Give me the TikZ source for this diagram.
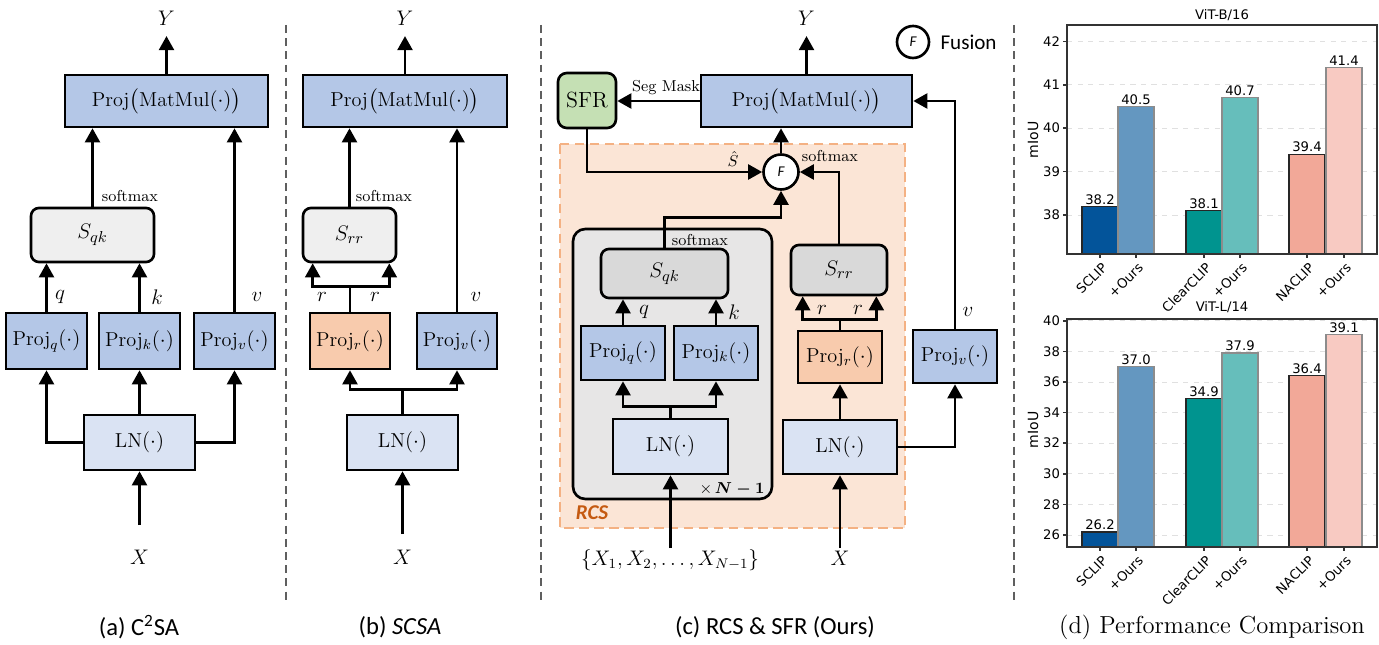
\documentclass[tikz,border=0pt]{standalone}
\usepackage{amsmath}
\usepackage{fontspec}
\setsansfont{Carlito}
\newfontfamily\pltfont{DejaVu Sans}
\usepackage{tikz}
\usetikzlibrary{arrows.meta, positioning}

\definecolor{projblue}{HTML}{B4C7E7}
\definecolor{lnblue}{HTML}{DAE3F3}
\definecolor{projorange}{HTML}{F8CBAD}
\definecolor{simgray}{HTML}{EFEFEF}
\definecolor{simdark}{HTML}{D9D9D9}
\definecolor{loopgray}{HTML}{E7E6E6}
\definecolor{sfrgreen}{HTML}{C5E0B4}
\definecolor{rcsfill}{HTML}{FBE5D6}
\definecolor{rcsline}{HTML}{F4B183}
\definecolor{rcstext}{HTML}{C55A11}
\definecolor{sepgray}{HTML}{5F5F5F}
\definecolor{sclipc}{HTML}{03549A}
\definecolor{sclipo}{HTML}{6497C0}
\definecolor{clearc}{HTML}{00948F}
\definecolor{clearo}{HTML}{66BEBB}
\definecolor{nac}{HTML}{F2A898}
\definecolor{naco}{HTML}{F8CAC2}

\begin{document}
\begin{tikzpicture}[x=0.02cm, y=-0.02cm,
    arr/.style={line width=1.5pt, -{Triangle[width=8.5pt,length=8pt]}},
    box/.style={draw, line width=1.5pt, inner sep=0pt, font=\fontsize{11.5}{13}\selectfont},
    proj/.style={box, fill=projblue, minimum width=1.62cm, minimum height=1.12cm},
    projr/.style={proj, fill=projorange},
    ln/.style={box, fill=lnblue, minimum width=2.22cm, minimum height=1.1cm},
    sim/.style={box, rounded corners=4.5pt, fill=simgray, minimum height=1.08cm, font=\fontsize{12.5}{14}\selectfont},
    simc/.style={sim, fill=simdark},
    sfrbox/.style={box, rounded corners=5pt, fill=sfrgreen, minimum width=1.16cm, minimum height=1.1cm, font=\fontsize{12.5}{14}\selectfont},
    fuse/.style={draw, circle, line width=1.5pt, fill=white, minimum size=0.7cm, inner sep=0pt, font=\sffamily\itshape\fontsize{8.5}{10}\selectfont},
    mathvar/.style={inner sep=1pt, font=\fontsize{12}{14}\selectfont},
    outvar/.style={mathvar, inner sep=6pt},
    lbl/.style={inner sep=1pt, font=\fontsize{13}{15}\selectfont},
    smalltxt/.style={inner sep=1pt, font=\fontsize{9}{10}\selectfont},
    subcap/.style={font=\sffamily\fontsize{14}{16}\selectfont},
    divider/.style={draw=sepgray, line width=1.3pt, dash pattern=on 4.5pt off 3pt},
    gridln/.style={draw=black!12, line width=0.5pt, dashed},
    axisbox/.style={draw=black!80, line width=0.8pt},
    plt/.style={inner sep=1pt, font=\pltfont\fontsize{7.5}{9}\selectfont},
    xlab/.style={plt, rotate=45, anchor=north east}]
  \useasboundingbox (0,0) rectangle (1379,645);

  % separators
  \draw[divider] (286,25) -- (286,600);
  \draw[divider] (541,25) -- (541,600);
  \draw[divider] (1014,25) -- (1014,600);

  % (a) C2SA
  \node[proj, minimum width=4.06cm, minimum height=1.04cm] (pa) at (166.5,101) {Proj$\big($MatMul$(\cdot)\big)$};
  \node[sim, minimum width=2.46cm] (sa) at (92.5,235) {$S_{qk}$};
  \node[proj] (qa) at (46.5,341) {Proj$_q(\cdot)$};
  \node[proj] (ka) at (139.5,341) {Proj$_k(\cdot)$};
  \node[proj] (va) at (234.5,341) {Proj$_v(\cdot)$};
  \node[ln] (lna) at (139.5,442.5) {LN$(\cdot)$};
  \node[outvar] (ya) at (166.5,18) {$Y$};
  \node[mathvar] (xa) at (139.5,557) {$X$};
  \coordinate (ina) at (139.5,525);
  \node[smalltxt] (sma) at (130,196) {softmax};
  \node[lbl] (la) at (60,297) {$q$};
  \node[lbl] (lb) at (157,297) {$k$};
  \node[lbl] (lc) at (257,297) {$v$};
  \draw[arr] (pa) -- (ya);
  \draw[arr] (sa) -- (sa |- pa.south);
  \draw[arr] (va) -- (va |- pa.south);
  \draw[arr] (qa) -- (qa |- sa.south);
  \draw[arr] (ka) -- (ka |- sa.south);
  \draw[arr] (lna.west) -| (qa);
  \draw[arr] (lna) -- (ka);
  \draw[arr] (lna.east) -| (va);
  \draw[arr] (ina) -- (lna);
  \node[subcap] (capa) at (139,627) {(a) C\textsuperscript{2}SA};

  % (b) SCSA
  \node[proj, minimum width=4.08cm, minimum height=1.04cm] (pb) at (405,101) {Proj$\big($MatMul$(\cdot)\big)$};
  \node[sim, minimum width=1.86cm] (sb) at (349.5,235) {$S_{rr}$};
  \node[projr, minimum width=1.6cm] (rb) at (350,341) {Proj$_r(\cdot)$};
  \node[proj, minimum width=1.6cm] (vb) at (457,341) {Proj$_v(\cdot)$};
  \node[ln] (lnb) at (402.5,442.5) {LN$(\cdot)$};
  \node[outvar] (yb) at (405,18) {$Y$};
  \node[mathvar] (xb) at (402.5,557) {$X$};
  \coordinate (inb) at (402.5,534);
  \node[smalltxt] (smb) at (384,196) {softmax};
  \node[lbl] (ld) at (322,297) {$r$};
  \node[lbl] (le) at (375,297) {$r$};
  \node[lbl] (lf) at (476,297) {$v$};
  \draw[arr] (pb) -- (yb);
  \draw[arr] (sb) -- (sb |- pb.south);
  \draw[arr] (vb) -- (vb |- pb.south);
  \draw[arr] (rb.north) -- ++(0,-25) -| ([xshift=0.22cm]sb.south west);
  \draw[arr] (rb.north) -- ++(0,-25) -| ([xshift=-0.16cm]sb.south east);
  \draw[arr] (lnb.north) -- ++(0,-24) -| (rb);
  \draw[arr] (lnb.north) -- ++(0,-24) -| (vb);
  \draw[arr] (inb) -- (lnb);
  \node[subcap] (capb) at (400,627) {(b) \textit{SCSA}};

  % (c) RCS & SFR
  \draw[draw=rcsline, fill=rcsfill, line width=1.2pt, dash pattern=on 5.5pt off 3pt] (560,144) rectangle (905,528);
  \draw[fill=loopgray, line width=1.5pt, rounded corners=7pt] (573,229) rectangle (772,499);
  \node[proj, minimum width=4.22cm, minimum height=1.04cm] (pc) at (806.5,101) {Proj$\big($MatMul$(\cdot)\big)$};
  \node[sfrbox] (sfr) at (587,100.5) {SFR};
  \node[fuse] (fc) at (781,172) {F};
  \node[simc, minimum width=2.54cm, minimum height=0.98cm] (sqc) at (664.5,273.5) {$S_{qk}$};
  \node[simc, minimum width=1.92cm, minimum height=1.0cm] (src) at (839,270) {$S_{rr}$};
  \node[proj, minimum width=1.68cm, minimum height=1.08cm] (qc) at (623,353) {Proj$_q(\cdot)$};
  \node[proj, minimum width=1.68cm, minimum height=1.08cm] (kc) at (716,353) {Proj$_k(\cdot)$};
  \node[ln, minimum width=2.3cm] (lnc) at (670.5,446.5) {LN$(\cdot)$};
  \node[projr, minimum width=1.68cm, minimum height=1.04cm] (rc) at (840,357) {Proj$_r(\cdot)$};
  \node[ln, minimum width=2.28cm, minimum height=1.08cm] (lnd) at (840,447) {LN$(\cdot)$};
  \node[proj, minimum width=1.68cm, minimum height=1.06cm] (vc) at (955,356.5) {Proj$_v(\cdot)$};
  \node[outvar] (yc) at (806.5,18) {$Y$};
  \node[mathvar] (xc) at (670,560) {$\{X_1,X_2,\dots,X_{N-1}\}$};
  \node[mathvar] (xd) at (840,558) {$X$};
  \coordinate (inc) at (670.5,548);
  \coordinate (ind) at (840,548);
  \node[fuse, minimum size=0.64cm] (fl) at (913,42) {F};
  \node[right=0.08cm of fl, font=\sffamily\fontsize{12}{14}\selectfont] (fltext) {Fusion};
  \node[smalltxt] (seg) at (666,88) {Seg Mask};
  \node[smalltxt] (smc) at (830,156) {softmax};
  \node[smalltxt] (smd) at (700,240) {softmax};
  \node[smalltxt] (shat) at (733,159) {$\hat{S}$};
  \node[lbl] (lg) at (644,312) {$q$};
  \node[lbl] (lh) at (734,312) {$k$};
  \node[lbl] (li) at (822,310) {$r$};
  \node[lbl] (lj) at (858,310) {$r$};
  \node[lbl] (lk) at (968,312) {$v$};
  \node[smalltxt] (rep) at (732,489) {$\times\,\boldsymbol{N-1}$};
  \node[font=\sffamily\bfseries\itshape\fontsize{12}{14}\selectfont, text=rcstext] (rcs) at (592,513) {RCS};
  \draw[arr] (pc) -- (yc);
  \draw[arr] (pc.west) -- (pc.west -| sfr.east);
  \draw[arr] (fc) -- (fc |- pc.south);
  \draw[arr] (sfr) |- (fc);
  \draw[arr] (src) |- (fc);
  \draw[arr] (sqc.north) -- ++(0,-30) -| (fc);
  \draw[arr] (qc) -- (qc |- sqc.south);
  \draw[arr] (kc) -- (kc |- sqc.south);
  \draw[arr] (lnc.north) -- ++(0,-11) -| (qc);
  \draw[arr] (lnc.north) -- ++(0,-11) -| (kc);
  \draw[arr] (inc) -- (lnc);
  \draw[arr] (rc.north) -- ++(0,-10) -| ([xshift=0.26cm]src.south west);
  \draw[arr] (rc.north) -- ++(0,-10) -| ([xshift=-0.24cm]src.south east);
  \draw[arr] (lnd) -- (rc);
  \draw[arr] (ind) -- (lnd);
  \draw[arr] (lnd.east) -| (vc);
  \draw[arr] (vc) |- (pc);
  \node[subcap] (capc) at (775,627) {(c) RCS \& SFR (Ours)};

  % (d) ViT-B/16
  \foreach \t in {38,...,42} {
    \pgfmathsetmacro\ty{215-(\t-38)*43.4}
    \draw[gridln] (1067,\ty) -- (1377,\ty);
    \draw[axisbox] (1063,\ty) -- (1067,\ty);
    \node[plt, anchor=east] (ta\t) at (1062,\ty) {\t};
  }
  \foreach \x/\v/\c/\e in {1082/38.2/sclipc/black!85, 1118/40.5/sclipo/black!45, 1186/38.1/clearc/black!85,
      1222/40.7/clearo/black!45, 1289/39.4/nac/black!85, 1326/41.4/naco/black!45} {
    \pgfmathsetmacro\yt{215-(\v-38)*43.4}
    \draw[fill=\c, draw=\e, line width=0.7pt] (\x,254) rectangle (\x+36,\yt);
    \node[plt, anchor=south] at (\x+18,\yt) {\v};
  }
  \draw[axisbox] (1067,25) rectangle (1377,254);
  \foreach \x/\n in {1100/SCLIP, 1136/+Ours, 1204/ClearCLIP, 1240/+Ours, 1307/NACLIP, 1344/+Ours} {
    \draw[axisbox] (\x,254) -- (\x,258);
    \node[xlab] at (\x+1,259) {\n};
  }
  \node[plt] (tta) at (1222,15) {ViT-B/16};
  \node[plt, rotate=90, font=\pltfont\fontsize{8}{9}\selectfont] (mia) at (1033,140) {mIoU};

  % (d) ViT-L/14
  \foreach \t in {26,28,...,40} {
    \pgfmathsetmacro\ty{535-(\t-26)*15.3}
    \draw[gridln] (1067,\ty) -- (1377,\ty);
    \draw[axisbox] (1063,\ty) -- (1067,\ty);
    \node[plt, anchor=east] (tb\t) at (1062,\ty) {\t};
  }
  \foreach \x/\v/\c/\e in {1082/26.2/sclipc/black!85, 1118/37.0/sclipo/black!45, 1186/34.9/clearc/black!85,
      1222/37.9/clearo/black!45, 1289/36.4/nac/black!85, 1326/39.1/naco/black!45} {
    \pgfmathsetmacro\yt{535-(\v-26)*15.3}
    \draw[fill=\c, draw=\e, line width=0.7pt] (\x,547) rectangle (\x+36,\yt);
    \node[plt, anchor=south] at (\x+18,\yt) {\v};
  }
  \draw[axisbox] (1067,319) rectangle (1377,547);
  \foreach \x/\n in {1100/SCLIP, 1136/+Ours, 1204/ClearCLIP, 1240/+Ours, 1307/NACLIP, 1344/+Ours} {
    \draw[axisbox] (\x,547) -- (\x,551);
    \node[xlab] at (\x+1,552) {\n};
  }
  \node[plt] (ttb) at (1222,307) {ViT-L/14};
  \node[plt, rotate=90, font=\pltfont\fontsize{8}{9}\selectfont] (mib) at (1033,430) {mIoU};
  \node[font=\fontsize{14}{16}\selectfont] (capd) at (1212,627) {(d) Performance Comparison};
\end{tikzpicture}
\end{document}
